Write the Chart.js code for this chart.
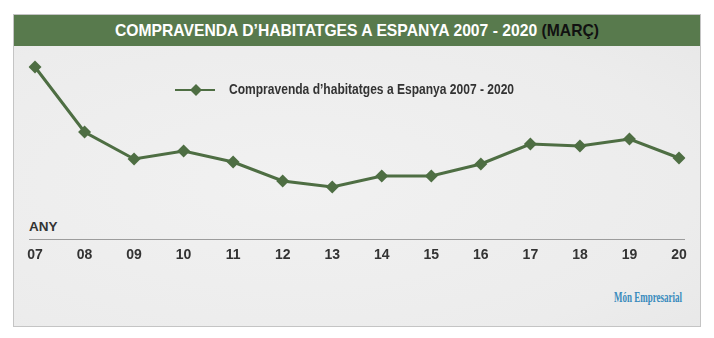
<!DOCTYPE html>
<html>
<head>
<meta charset="utf-8">
<script src="https://cdn.jsdelivr.net/npm/chart.js@4"></script>
<style>
    body { margin: 0; width: 714px; height: 338px; background: #fff; overflow: hidden; }
    #frame {
        position: absolute; left: 13px; top: 14px; width: 686px; height: 311px;
        border: 1px solid #c4c4c4; background: #eeeeee;
        background-image: radial-gradient(ellipse at 40% 55%, #f1f1f1 0%, #ececec 70%, #e7e7e7 100%);
    }
    #title {
        position: absolute; left: 0; top: 0; width: 686px; height: 31px; background: #587a4d;
        color: #fff; font: bold 15.7px "Liberation Sans", Arial, sans-serif;
        text-align: center; line-height: 31px; white-space: nowrap;
    }
    #title span { color: #111; }
    #any {
        position: absolute; left: 29px; top: 219px;
        font: bold 13.5px "Liberation Sans", Arial, sans-serif; color: #333;
    }
    #brand {
        position: absolute; left: 614px; top: 289px; color: #3a8bbd; white-space: nowrap;
        font: bold 15px "Liberation Serif", serif; transform: scaleX(0.6); transform-origin: left top;
    }
    #wrap { position: absolute; left: 14px; top: 46px; width: 686px; height: 234px; }
</style>
</head>
<body>
<div id="frame"><div id="title">COMPRAVENDA D’HABITATGES A ESPANYA 2007 - 2020 <span>(MARÇ)</span></div></div>
<div id="any">ANY</div>
<div id="brand">Món Empresarial</div>
<div id="wrap"><canvas id="myLineChart"></canvas></div>
<script>
// Years (tick labels) and March sales
const years = ['07', '08', '09', '10', '11', '12', '13', '14', '15', '16', '17', '18', '19', '20'];
const sales = [76000, 50000, 39200, 42400, 38000, 30400, 28000, 32400, 32400, 37200, 45200, 44400, 47200, 39600];
const seriesName = 'Compravenda d’habitatges a Espanya 2007 - 2020';

const green = '#4e6e43';
const fontFamily = '"Liberation Sans", Arial, sans-serif';

document.addEventListener('DOMContentLoaded', function () {
    // Axis line a bit wider than the plot, plus the legend inside the plot area
    const extras = {
        id: 'extras',
        afterDraw(chart) {
            const c = chart.ctx;
            const a = chart.chartArea;
            c.save();
            c.strokeStyle = '#9c9c9c';
            c.lineWidth = 1;
            c.beginPath();
            c.moveTo(a.left - 6, a.bottom + 0.5);
            c.lineTo(a.right + 6, a.bottom + 0.5);
            c.stroke();

            const lx = a.left + 140, ly = a.top + 30;
            c.strokeStyle = green;
            c.lineWidth = 2;
            c.beginPath();
            c.moveTo(lx, ly);
            c.lineTo(lx + 40, ly);
            c.stroke();
            c.fillStyle = green;
            c.beginPath();
            c.moveTo(lx + 21, ly - 6);
            c.lineTo(lx + 27, ly);
            c.lineTo(lx + 21, ly + 6);
            c.lineTo(lx + 15, ly);
            c.closePath();
            c.fill();
            // condensed look: squeeze the legend text a little
            c.translate(lx + 54, ly);
            c.scale(0.86, 1);
            c.fillStyle = '#333';
            c.font = 'bold 14px ' + fontFamily;
            c.textBaseline = 'middle';
            c.fillText(chart.data.datasets[0].label, 0, 0);
            c.restore();
        }
    };

    var ctx = document.getElementById('myLineChart').getContext('2d');
    var myLineChart = new Chart(ctx, {
        type: 'line',
        data: {
            labels: years,
            datasets: [{
                label: seriesName,
                data: sales,
                borderColor: green,
                backgroundColor: green,
                borderWidth: 3,
                pointStyle: 'rectRot',
                pointRadius: 6.5,
                pointBorderWidth: 0,
                tension: 0
            }]
        },
        options: {
            responsive: true,
            maintainAspectRatio: false,
            animation: false,
            layout: { padding: { left: 21, right: 21, top: 14, bottom: 0 } },
            plugins: { legend: { display: false }, tooltip: { enabled: false } },
            scales: {
                x: {
                    grid: { display: false, drawTicks: false },
                    border: { display: false },
                    ticks: { color: '#333', padding: 8, maxRotation: 0, autoSkip: false,
                        font: { family: fontFamily, size: 14, weight: 'bold' } },
                    afterFit: function (scale) { scale.height = 41; }
                },
                y: { display: false, min: 7200, max: 78800 }
            }
        },
        plugins: [extras]
    });
});
</script>
</body>
</html>
